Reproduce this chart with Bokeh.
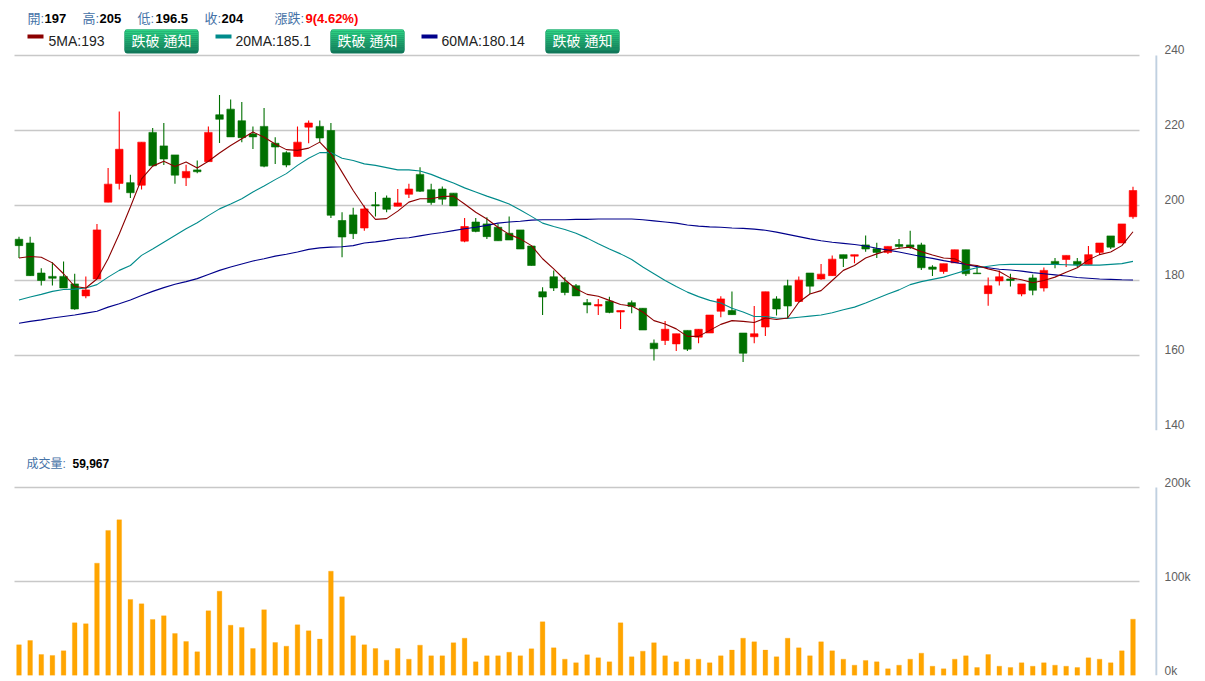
from bokeh.plotting import figure
from bokeh.layouts import column
from bokeh.models import Range1d, FixedTicker, Label, BoxAnnotation, ColumnDataSource
from bokeh.embed import file_html
from bokeh.resources import INLINE

opens = [191.0,190.0,182.0,181.1,181.1,179.1,175.9,180.4,200.9,205.9,
         206.1,205.4,219.5,215.9,213.5,207.4,209.5,211.7,224.2,225.7,
         222.6,219.1,221.1,216.6,214.1,213.1,220.9,221.1,220.0,196.0,
         197.5,194.0,200.2,202.0,199.8,203.0,208.3,204.2,204.4,203.3,
         190.5,195.6,195.1,194.2,192.6,193.5,189.2,177.0,181.0,179.5,
         178.6,174.1,173.2,174.5,171.6,174.1,172.6,163.3,164.0,163.1,
         166.7,164.9,166.0,171.8,172.0,166.0,165.0,167.6,175.1,178.6,
         174.4,182.0,180.4,181.3,186.9,186.5,189.5,188.5,187.5,189.6,
         189.5,189.5,183.6,182.4,184.7,188.2,182.0,176.5,179.9,180.4,
         176.4,180.7,178.0,185.1,185.6,185.1,184.3,187.5,191.9,190.0,197.0]
closes = [189.3,181.3,180.0,180.6,178.0,172.4,177.5,193.5,205.7,215.0,
          203.4,216.9,210.6,212.4,208.1,209.1,209.0,219.5,223.0,218.3,
          218.1,218.3,210.5,215.6,210.8,216.9,222.0,218.0,197.4,191.6,
          192.5,199.1,199.9,199.0,200.7,204.4,203.8,200.8,201.7,199.9,
          194.4,193.1,191.7,190.6,190.8,188.4,184.0,175.6,178.0,176.8,
          175.9,173.5,173.6,171.5,172.0,173.1,166.8,161.8,167.0,165.8,
          161.7,167.0,170.8,175.1,170.9,160.6,165.8,177.0,172.4,173.2,
          180.1,178.5,181.7,185.7,185.9,186.9,188.4,187.5,189.1,189.1,
          188.9,183.4,183.0,184.5,188.2,181.8,181.8,178.6,181.0,180.0,
          179.1,177.4,182.7,184.3,186.7,184.2,186.9,190.0,188.9,195.1,204.0]
highs = [191.7,191.7,183.3,184.9,185.1,181.8,181.1,195.1,210.0,225.1,
         208.2,216.9,220.7,222.0,213.5,210.9,212.0,221.1,229.5,228.3,
         227.6,221.1,226.0,218.2,214.5,221.1,222.7,222.7,222.0,198.2,
         199.4,200.0,203.6,202.7,204.4,205.8,210.2,205.8,205.1,203.3,
         196.7,196.7,196.9,195.1,197.1,193.5,189.2,178.2,182.7,180.9,
         179.1,175.1,175.1,175.7,172.0,174.7,172.6,164.3,169.2,165.8,
         166.7,167.0,170.8,175.8,177.1,166.0,173.2,177.0,175.8,180.2,
         181.1,182.0,184.4,186.7,186.9,186.9,192.0,190.1,189.1,191.1,
         193.3,190.1,184.1,184.5,188.2,188.2,184.0,180.8,182.7,181.8,
         179.1,181.6,183.5,186.0,186.7,186.0,189.2,190.0,191.9,195.1,205.0]
lows = [186.0,181.2,178.7,178.7,178.0,172.2,175.3,180.4,200.9,204.3,
        202.0,204.3,210.6,210.8,205.8,205.2,208.6,211.7,216.7,218.3,
        216.9,215.1,210.2,211.1,210.2,213.1,216.6,216.9,196.7,186.2,
        191.1,193.3,197.1,198.2,199.8,202.0,203.6,200.2,200.2,199.9,
        190.2,192.9,191.1,190.6,190.8,188.4,184.0,170.8,177.2,176.1,
        175.9,171.3,170.8,171.3,167.1,171.3,166.8,158.7,162.8,161.2,
        161.2,163.3,166.0,170.2,170.9,158.3,163.3,165.2,170.7,170.0,
        174.4,176.4,180.2,181.2,183.6,184.6,187.7,186.0,187.1,188.4,
        188.4,182.8,181.2,181.8,184.7,181.2,181.8,173.3,178.7,178.4,
        175.8,176.1,177.1,183.3,183.6,183.6,184.3,186.8,188.4,190.0,196.5]
ma5 = [186.0,186.4,186.2,184.7,181.8,178.4,178.0,180.4,185.8,192.4,
       199.6,207.1,210.5,211.8,210.4,211.6,210.0,211.8,214.0,216.0,
       217.8,219.6,218.2,216.4,214.9,214.7,215.3,216.9,213.8,208.9,
       204.0,199.6,196.3,196.5,198.5,200.9,201.8,201.8,202.4,202.5,
       200.4,198.2,196.4,194.2,192.3,191.1,189.3,185.8,183.1,180.2,
       177.8,176.3,175.8,174.7,173.6,173.2,171.6,169.3,168.4,167.1,
       165.1,165.1,166.7,168.3,169.3,169.1,168.8,170.0,169.6,170.0,
       174.2,176.4,177.3,180.0,182.7,184.0,186.0,187.1,188.0,188.6,
       188.9,187.7,186.8,186.0,185.8,184.3,184.0,183.1,182.4,180.7,
       180.2,179.4,180.0,180.9,182.2,183.4,185.5,186.9,187.6,189.3,193.0]
ma20 = [174.8,175.6,176.3,177.1,177.6,177.7,178.0,178.9,180.9,182.7,
        184.0,186.7,188.4,190.2,192.0,193.8,195.4,197.3,199.1,200.4,
        201.8,203.6,205.2,206.9,208.5,210.7,212.6,214.1,214.1,212.6,
        212.0,211.1,210.7,210.1,209.5,209.5,209.2,208.3,207.1,206.0,
        204.7,203.6,202.5,201.5,200.4,198.8,197.1,195.3,194.4,193.6,
        192.6,191.3,189.8,188.4,187.1,185.6,183.6,181.8,180.0,178.4,
        176.9,175.7,174.7,174.0,172.6,171.6,170.4,170.4,170.0,169.9,
        170.2,170.5,170.8,171.4,172.2,172.9,174.0,175.2,176.4,177.5,
        178.9,179.7,180.3,180.9,181.8,182.7,183.4,183.8,184.2,184.3,
        184.3,184.3,184.3,184.3,184.2,184.1,184.1,184.1,184.3,184.5,185.1]
ma60 = [168.6,169.1,169.5,170.0,170.4,170.8,171.3,171.8,172.9,173.8,
        174.8,176.0,177.1,178.1,179.0,179.7,180.5,181.6,182.7,183.6,
        184.4,185.2,185.8,186.5,187.0,187.6,188.3,188.7,188.9,189.0,
        189.3,190.0,190.3,190.7,191.2,191.4,191.9,192.4,192.8,193.3,
        193.8,194.2,194.7,195.3,195.6,195.8,196.1,196.2,196.2,196.2,
        196.3,196.3,196.4,196.4,196.4,196.4,196.2,195.9,195.6,195.3,
        194.8,194.5,194.3,194.2,194.0,193.9,193.7,193.4,192.9,192.3,
        191.7,191.1,190.6,190.2,189.9,189.6,189.2,188.6,188.1,187.6,
        187.0,186.4,185.9,185.3,184.8,184.3,183.7,183.4,183.0,182.8,
        182.5,182.1,181.8,181.5,181.2,180.8,180.6,180.4,180.3,180.2,180.14]
volume_k = [32.6,37.2,22.3,21.3,26.2,56.0,55.0,119.5,154.3,165.6,
            80.9,76.2,59.6,63.5,44.7,36.2,25.2,68.8,89.7,53.5,
            51.1,28.7,69.9,35.1,31.2,53.9,47.5,38.7,111.0,83.7,
            42.2,32.6,28.7,16.3,28.7,17.4,32.3,20.9,20.9,34.8,
            39.7,14.5,20.9,20.9,24.8,20.9,28.4,57.1,29.4,17.4,
            13.5,22.0,18.8,14.5,56.0,19.9,25.9,34.8,20.9,14.5,
            17.4,17.4,13.5,20.9,27.0,39.7,35.8,27.0,19.9,39.7,
            29.4,20.9,35.8,26.2,17.4,11.0,16.0,14.5,7.1,11.0,
            17.4,23.8,9.9,7.1,17.4,20.9,8.5,22.3,9.9,8.5,
            13.5,9.9,13.5,11.0,9.9,8.5,18.8,17.4,13.5,26.2,59.967]

price_ticks = [140, 160, 180, 200, 220, 240]
volume_ticks = [0, 100, 200]
volume_tick_labels = ["0k", "100k", "200k"]

quote_parts = [("開:", 27, False, "#4572A7"), ("197", 44, True, "#000000"),
               ("高:", 82, False, "#4572A7"), ("205", 99, True, "#000000"),
               ("低:", 137, False, "#4572A7"), ("196.5", 155, True, "#000000"),
               ("收:", 204, False, "#4572A7"), ("204", 221, True, "#000000"),
               ("漲跌:", 274, False, "#4572A7"), ("9(4.62%)", 305, True, "#FF0000")]
legend_items = [("5MA:193", "#8B0000", 27, 43, 48, 124),
                ("20MA:185.1", "#008B8B", 215, 231, 235, 330),
                ("60MA:180.14", "#00008B", 421, 437, 441, 545)]

FONT = "'Liberation Sans', 'Noto Sans CJK TC', sans-serif"
AXIS_COLOR = "#C0D0E0"
FRAME_BOTTOM = 430
X_RANGE = (-1.66, 102.2)
GRID_X = (-0.4, 100.55)
AXIS_X = 102.11

xs = list(range(len(closes)))
src = ColumnDataSource(dict(x=xs, o=opens, c=closes, h=highs, l=lows,
                            col=["#FF0000" if c >= o else "#007000" for o, c in zip(opens, closes)],
                            ma5=ma5, ma20=ma20, ma60=ma60, vol=volume_k))


def make_panel(height, y_start, y_end, ticks, labels, px_per_unit, bottom, lift_px):
    p = figure(width=1205, height=height, output_backend="svg", toolbar_location=None,
               x_range=Range1d(*X_RANGE), y_range=Range1d(y_start, y_end),
               y_axis_location="right", x_axis_location=None,
               min_border_left=0, min_border_right=48, min_border_top=0, min_border_bottom=bottom)
    lift = lift_px / px_per_unit
    ax = p.yaxis[0]
    label_at = [t + lift for t in ticks]
    ax.ticker = FixedTicker(ticks=label_at)
    ax.major_label_overrides = dict(zip(label_at, labels))
    ax.axis_line_color = None
    ax.major_tick_line_color = None
    ax.minor_tick_line_color = None
    ax.major_label_standoff = 1
    ax.major_label_text_color = "#606060"
    ax.major_label_text_font = FONT
    ax.major_label_text_font_size = "12px"
    g = p.ygrid[0]
    g.ticker = FixedTicker(ticks=ticks)
    g.grid_line_color = "#C8C8C8"
    g.grid_line_width = 1.3
    g.cross_bounds = GRID_X
    p.xgrid.visible = False
    p.outline_line_color = None
    p.background_fill_color = "white"
    p.border_fill_color = "white"
    p.segment([AXIS_X], [ticks[0]], [AXIS_X], [ticks[-1]], color=AXIS_COLOR, line_width=2.2)
    return p


p1 = make_panel(440, 140, 140 + 430 / 3.75, price_ticks, [str(t) for t in price_ticks], 3.75, 10, 6)
p1.segment("x", "l", "x", "h", source=src, color="col", line_width=1.1)
p1.vbar("x", 0.68, "o", "c", source=src, fill_color="col", line_color="col", line_width=0.6)
p1.line("x", "ma60", source=src, color="#00008B", line_width=1.1)
p1.line("x", "ma20", source=src, color="#008B8B", line_width=1.1)
p1.line("x", "ma5", source=src, color="#8B0000", line_width=1.1)


def text(p, s, X, y_up, size="13px", bold=False, color="#000000", align="left"):
    p.add_layout(Label(x=X, y=y_up, x_units="screen", y_units="screen",
                       text=s, text_font=FONT, text_font_size=size, text_color=color,
                       text_align=align, text_baseline="middle", level="overlay",
                       text_font_style="bold" if bold else "normal"))


def box(p, x0, x1, y0, y1, color, radius=0):
    p.add_layout(BoxAnnotation(left=x0, right=x1, top=FRAME_BOTTOM - y0, bottom=FRAME_BOTTOM - y1,
                               left_units="screen", right_units="screen",
                               top_units="screen", bottom_units="screen",
                               fill_color=color, fill_alpha=1, line_color=None,
                               border_radius=radius, level="annotation"))


GRADIENT = ["#2FD283", "#2CCB80", "#29C37C", "#26BA78", "#24B274", "#21AA70", "#1FA26C", "#1C9B68", "#1A9465", "#178C62"]
for name, color, sx0, sx1, tx, bx in legend_items:
    box(p1, sx0, sx1, 34, 38, color)
    text(p1, name, tx, FRAME_BOTTOM - 40, size="14px", color="#222222")
    box(p1, bx, bx + 74, 29, 53, "#11785A", radius=3)
    for k, c in enumerate(GRADIENT):
        inset = 1 if k == 0 else 0
        box(p1, bx + inset, bx + 74 - inset, 29 + 2 * k, 31 + 2 * k + (1 if k == len(GRADIENT) - 1 else 0), c)
    text(p1, "跌破 通知", bx + 37, FRAME_BOTTOM - 40, size="14px", color="#FFFFFF", align="center")
for s, X, b, c in quote_parts:
    text(p1, s, X, FRAME_BOTTOM - 18, size="13px", bold=b, color=c)

p2 = make_panel(241, 0, 235 / 0.94, volume_ticks, volume_tick_labels, 0.94, 6, 5)
p2.vbar("x", 0.42, 0, "vol", source=src, fill_color="#FFA500", line_color="#FFA500", line_width=0.6, line_alpha=0.5)
text(p2, "成交量:", 26, 212, size="12px", color="#4572A7")
text(p2, "59,967", 72, 212, size="12px", bold=True)

page = column(p1, p2, spacing=0)
open("out.html", "w").write(file_html(page, INLINE))
